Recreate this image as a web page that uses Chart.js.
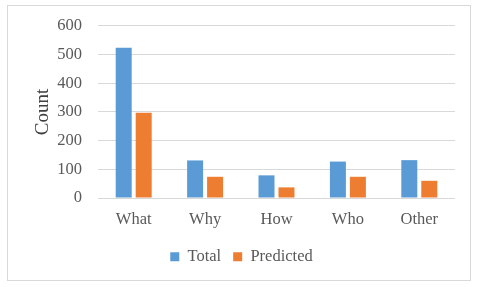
<!DOCTYPE html>
<html><head><meta charset="utf-8">
<script src="https://cdn.jsdelivr.net/npm/chart.js@4"></script>
<style>
html,body{margin:0;padding:0;background:#fff;}
#wrap{position:relative;width:480px;height:287px;}
#frame{position:absolute;left:7px;top:5px;width:464px;height:276px;border:1px solid #d9d9d9;box-sizing:border-box;pointer-events:none;}
canvas{position:absolute;left:0;top:0;}
</style></head><body>
<div id="wrap"><canvas id="c" width="480" height="287"></canvas><div id="frame"></div></div>
<script>
const categories = ["What", "Why", "How", "Who", "Other"];
const totalValues = [524, 131, 79, 127, 132];
const predictedValues = [297, 74, 37, 74, 60];
const yTicks = [0, 100, 200, 300, 400, 500, 600];

const font = "'Liberation Serif', 'Times New Roman', serif";
new Chart(document.getElementById('c'), {
  type: 'bar',
  data: {
    labels: categories,
    datasets: [
      {label: 'Total', data: totalValues, backgroundColor: '#5B9BD5', categoryPercentage: 0.56, barPercentage: 0.8},
      {label: 'Predicted', data: predictedValues, backgroundColor: '#ED7D31', categoryPercentage: 0.56, barPercentage: 0.8}
    ]
  },
  options: {
    responsive: false,
    animation: false,
    layout: {padding: {left: 28, right: 25, top: 25, bottom: 12}},
    plugins: {
      legend: {
        position: 'bottom',
        labels: {font: {family: font, size: 16.5}, color: '#595959', boxWidth: 9, boxHeight: 9, padding: 12}
      },
      tooltip: {enabled: false}
    },
    scales: {
      x: {
        afterFit: s => { s.height = 38.5; },
        grid: {display: false, drawTicks: false},
        border: {display: false},
        ticks: {font: {family: font, size: 16.5}, color: '#595959', padding: 12}
      },
      y: {
        min: 0, max: 600,
        afterBuildTicks: s => { s.ticks = yTicks.map(v => ({value: v})); },
        afterFit: s => { s.width = 70; },
        grid: {color: '#d9d9d9', lineWidth: 1, drawTicks: false},
        border: {display: false},
        ticks: {font: {family: font, size: 16.5}, color: '#595959', padding: 16},
        title: {display: true, text: 'Count', font: {family: font, size: 19}, color: '#404040'}
      }
    }
  }
});
</script>
</body></html>
